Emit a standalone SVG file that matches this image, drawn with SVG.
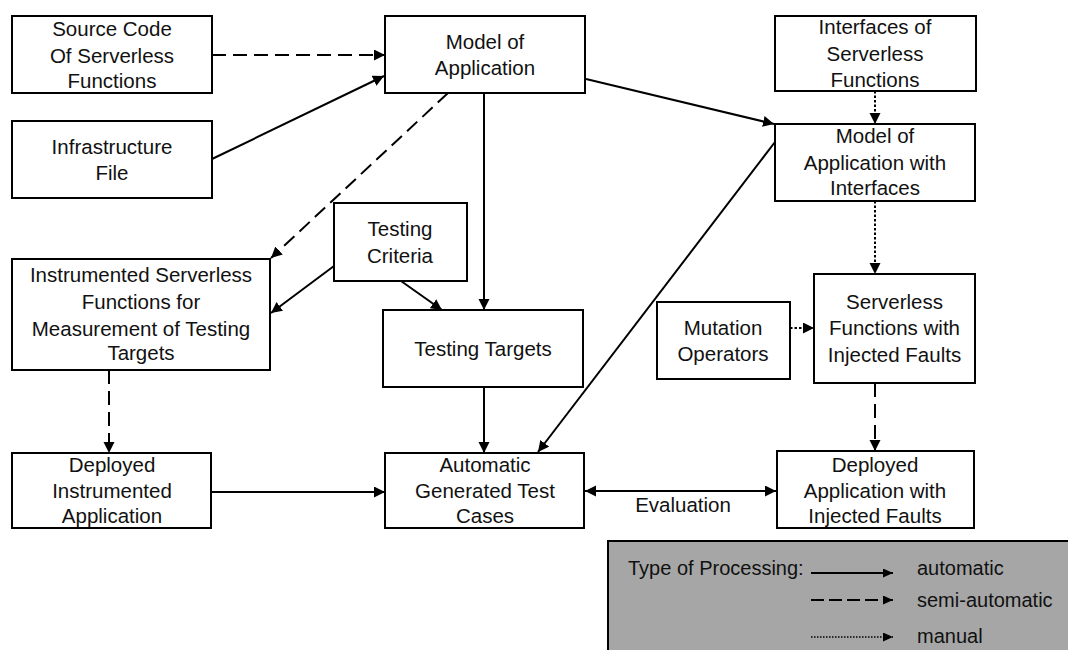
<svg xmlns="http://www.w3.org/2000/svg" width="1068" height="650" viewBox="0 0 1068 650">
  <defs>
    <style>
      .box { fill: #ffffff; stroke: #000000; stroke-width: 2; }
      .lbl { font-family: "Liberation Sans", Arial, sans-serif; font-size: 20.5px; fill: #111111; text-anchor: middle; }
      .leg { font-family: "Liberation Sans", Arial, sans-serif; font-size: 20px; fill: #111111; }
      .edge { fill: none; stroke: #000000; stroke-width: 2; }
      .solid { marker-end: url(#head); }
      .dashed { stroke-dasharray: 14 7; marker-end: url(#head); }
      .dotted { stroke-dasharray: 2.5 2; marker-end: url(#head); }
    </style>
    <marker id="head" markerUnits="userSpaceOnUse" markerWidth="12" markerHeight="12" refX="11" refY="5.5" orient="auto-start-reverse">
      <path d="M0,0 L11,5.5 L0,11 Z" fill="#000000"/>
    </marker>
    <marker id="legHead" markerUnits="userSpaceOnUse" markerWidth="11" markerHeight="11" refX="10" refY="4.5" orient="auto">
      <path d="M0,0 L10,4.5 L0,9 Z" fill="#000000"/>
    </marker>
  </defs>

  <rect width="1068" height="650" fill="#ffffff"/>

  <!-- connectors -->
  <g id="connectors">
    <path class="edge dashed" d="M212,55 L385,55"/>
    <path class="edge solid" d="M212,159 L384,76"/>
    <path class="edge solid" d="M586,79 L774,124"/>
    <path class="edge dotted" d="M875,91 L875,124"/>
    <path class="edge dashed" d="M448,93 L271,258"/>
    <path class="edge solid" d="M484,93 L484,310"/>
    <path class="edge solid" d="M334,266 L271,313"/>
    <path class="edge solid" d="M401,281 L442,310"/>
    <path class="edge solid" d="M775,142 L538,452"/>
    <path class="edge dotted" d="M875,201 L875,274"/>
    <path class="edge dotted" d="M790,328 L814,328"/>
    <path class="edge dashed" d="M109,370 L109,453"/>
    <path class="edge solid" d="M484,387 L484,453"/>
    <path class="edge dashed" d="M875,383 L875,451"/>
    <path class="edge solid" d="M211,492 L385,492"/>
    <path class="edge" d="M585,491 L776,491" marker-start="url(#head)" marker-end="url(#head)"/>
    <text class="lbl" x="683" y="512">Evaluation</text>
  </g>

  <g id="source-code">
    <rect class="box" x="12" y="16" width="200" height="77"/>
    <text class="lbl" x="112" y="36">Source Code</text>
    <text class="lbl" x="112" y="62.5">Of Serverless</text>
    <text class="lbl" x="112" y="87.5">Functions</text>
  </g>

  <g id="infrastructure-file">
    <rect class="box" x="12" y="121" width="200" height="77"/>
    <text class="lbl" x="112" y="154">Infrastructure</text>
    <text class="lbl" x="112" y="180">File</text>
  </g>

  <g id="model-of-application">
    <rect class="box" x="385" y="16" width="200" height="77"/>
    <text class="lbl" x="485" y="49">Model of</text>
    <text class="lbl" x="485" y="75">Application</text>
  </g>

  <g id="interfaces">
    <rect class="box" x="775" y="16" width="201" height="75"/>
    <text class="lbl" x="875" y="33.5">Interfaces of</text>
    <text class="lbl" x="875" y="60.5">Serverless</text>
    <text class="lbl" x="875" y="87">Functions</text>
  </g>

  <g id="model-with-interfaces">
    <rect class="box" x="775" y="124" width="200" height="77"/>
    <text class="lbl" x="875" y="143">Model of</text>
    <text class="lbl" x="875" y="170">Application with</text>
    <text class="lbl" x="875" y="195">Interfaces</text>
  </g>

  <g id="testing-criteria">
    <rect class="box" x="334" y="203" width="133" height="78"/>
    <text class="lbl" x="400" y="236">Testing</text>
    <text class="lbl" x="400" y="263">Criteria</text>
  </g>

  <g id="instrumented-functions">
    <rect class="box" x="12" y="259" width="258" height="111"/>
    <text class="lbl" x="141" y="282">Instrumented Serverless</text>
    <text class="lbl" x="141" y="308.5">Functions for</text>
    <text class="lbl" x="141" y="335.5">Measurement of Testing</text>
    <text class="lbl" x="141" y="360">Targets</text>
  </g>

  <g id="testing-targets">
    <rect class="box" x="383" y="310" width="200" height="77"/>
    <text class="lbl" x="483" y="356">Testing Targets</text>
  </g>

  <g id="mutation-operators">
    <rect class="box" x="657" y="302" width="133" height="77"/>
    <text class="lbl" x="723" y="334.5">Mutation</text>
    <text class="lbl" x="723" y="360.5">Operators</text>
  </g>

  <g id="functions-with-faults">
    <rect class="box" x="814" y="274" width="161" height="109"/>
    <text class="lbl" x="894.5" y="308.5">Serverless</text>
    <text class="lbl" x="894.5" y="335">Functions with</text>
    <text class="lbl" x="894.5" y="361.5">Injected Faults</text>
  </g>

  <g id="deployed-instrumented">
    <rect class="box" x="12" y="453" width="199" height="75"/>
    <text class="lbl" x="112" y="472">Deployed</text>
    <text class="lbl" x="112" y="497.5">Instrumented</text>
    <text class="lbl" x="112" y="523">Application</text>
  </g>

  <g id="generated-test-cases">
    <rect class="box" x="385" y="453" width="199" height="75"/>
    <text class="lbl" x="485" y="472">Automatic</text>
    <text class="lbl" x="485" y="497.5">Generated Test</text>
    <text class="lbl" x="485" y="523">Cases</text>
  </g>

  <g id="deployed-with-faults">
    <rect class="box" x="777" y="451" width="197" height="77"/>
    <text class="lbl" x="875" y="472">Deployed</text>
    <text class="lbl" x="875" y="497.5">Application with</text>
    <text class="lbl" x="875" y="523">Injected Faults</text>
  </g>

  <!-- legend -->
  <g id="legend">
    <rect x="608" y="541" width="470" height="120" fill="#a6a6a6" stroke="#000000" stroke-width="2"/>
    <text class="leg" x="628" y="575">Type of Processing:</text>
    <path d="M811,573 L893,573" fill="none" stroke="#000000" stroke-width="1.8" marker-end="url(#legHead)"/>
    <text class="leg" x="917" y="575">automatic</text>
    <path d="M811,600 L893,600" fill="none" stroke="#000000" stroke-width="1.8" stroke-dasharray="13 5" marker-end="url(#legHead)"/>
    <text class="leg" x="917" y="607">semi-automatic</text>
    <path d="M811,637 L893,637" fill="none" stroke="#000000" stroke-width="1.5" stroke-dasharray="1.5 1.5" marker-end="url(#legHead)"/>
    <text class="leg" x="917" y="643">manual</text>
  </g>
</svg>
